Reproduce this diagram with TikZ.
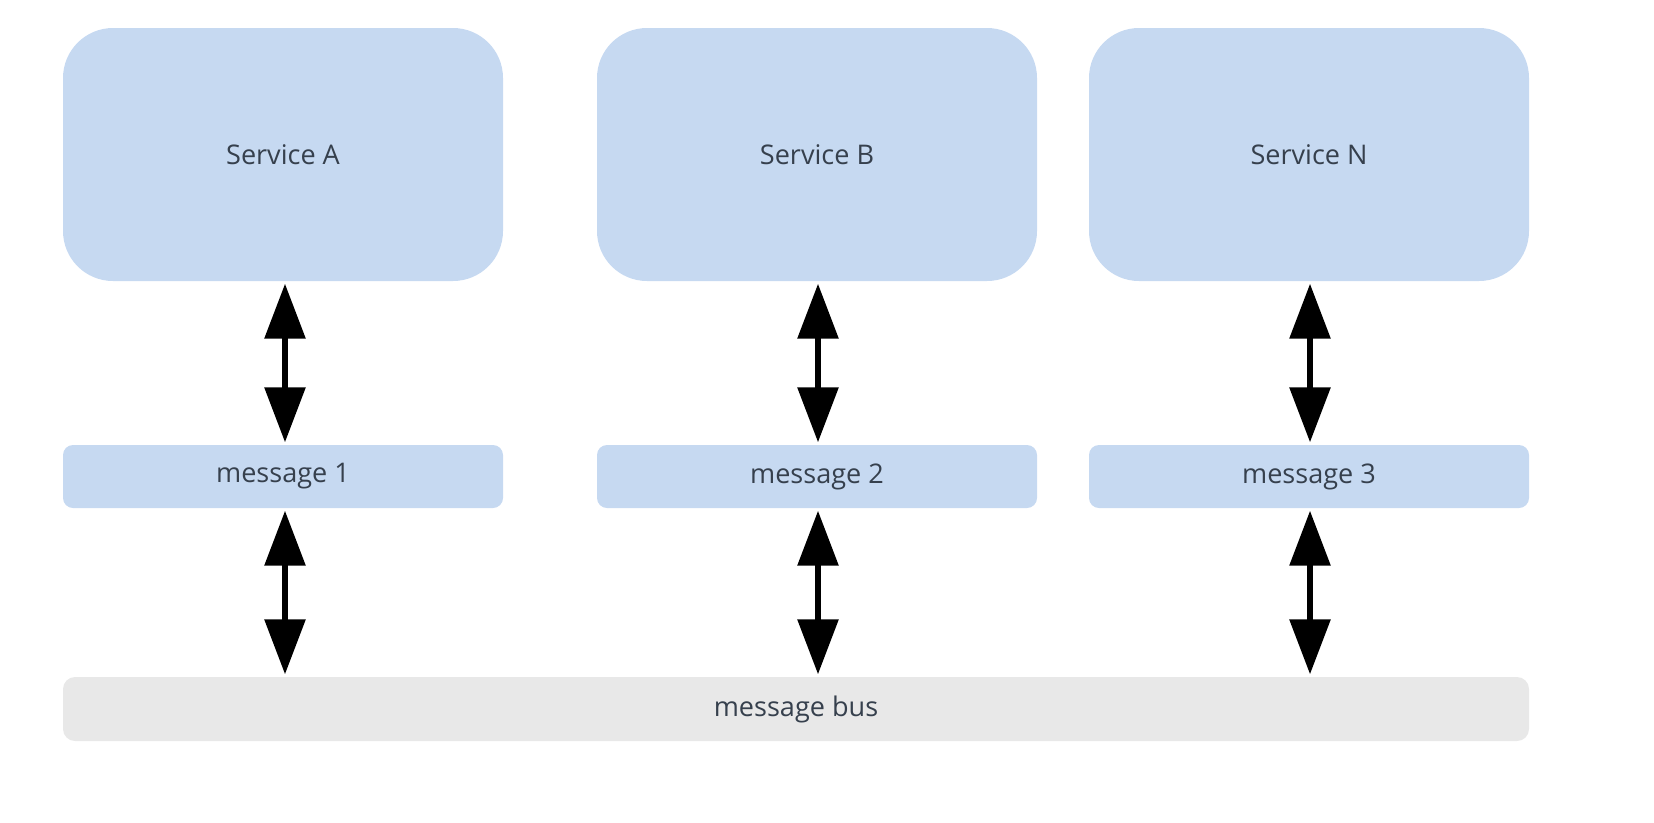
\documentclass[tikz,border=0pt]{standalone}
\usepackage{fontspec}
\setmainfont{Open Sans}
\usepackage{tikz}
\usetikzlibrary{arrows.meta}
\definecolor{svcblue}{HTML}{C6D9F1}
\definecolor{busgrey}{HTML}{E8E8E8}
\definecolor{labelink}{HTML}{36404D}

\begin{document}
\begin{tikzpicture}
				\useasboundingbox (0,0) rectangle (16.54,-8.22);
				\begin{scope}[every node/.style = {rectangle, fill=svcblue, text=labelink,
						inner sep=0pt, font=\fontsize{7.7}{9}\selectfont}]
					\begin{scope}[every node/.append style={minimum width=4.4cm, minimum height=2.53cm, rounded corners=0.5cm}]
						\node (SA) at (2.83,-1.545) {Service A};
						\node (SB) at (8.17,-1.545) {Service B};
						\node (SN) at (13.09,-1.545) {Service N};
					\end{scope}
					\begin{scope}[every node/.append style={minimum width=4.4cm, minimum height=0.63cm, rounded corners=0.1cm}]
						\node (M1) at (2.83,-4.765) {message 1};
						\node (M2) at (8.17,-4.765) {message 2};
						\node (M3) at (13.09,-4.765) {message 3};
					\end{scope}
					\node (bus) [fill=busgrey, minimum width=14.66cm, minimum height=0.64cm, rounded corners=0.12cm]
						at (7.96,-7.09) {message bus};
				\end{scope}
				\begin{scope}[>={Triangle[length=0.55cm, width=0.4cm]},
						every edge/.style={draw=black, line width=0.06cm, shorten <=0.02cm, shorten >=0.02cm}]
					\path [<->] (SA.south -| 2.85,0) edge (M1.north -| 2.85,0);
					\path [<->] (SB.south -| 8.18,0) edge (M2.north -| 8.18,0);
					\path [<->] (SN.south -| 13.10,0) edge (M3.north -| 13.10,0);
					\path [<->] (M1.south -| 2.85,0) edge (bus.north -| 2.85,0);
					\path [<->] (M2.south -| 8.18,0) edge (bus.north -| 8.18,0);
					\path [<->] (M3.south -| 13.10,0) edge (bus.north -| 13.10,0);
				\end{scope}
			\end{tikzpicture}
\end{document}
